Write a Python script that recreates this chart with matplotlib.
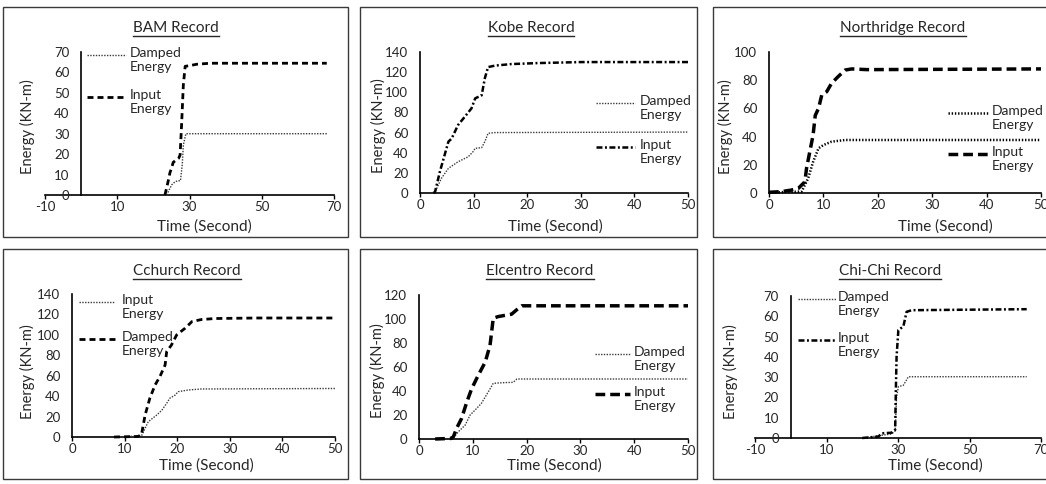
import matplotlib.pyplot as plt
from matplotlib.patches import Rectangle
from matplotlib.lines import Line2D

W, H = 1046, 484
plt.rcParams['font.family'] = ['Lato', 'DejaVu Sans']
plt.rcParams['lines.scale_dashes'] = False
plt.rcParams['axes.unicode_minus'] = False

# ---- energy histories (time in s, energy in KN-m) ----
bam_t_input = [23.2, 24.0, 24.6, 25.0, 25.5, 26.2, 27.0, 27.4, 27.8, 28.3, 28.8, 30.0, 32.0, 35.7, 68.0]
bam_input = [0, 6, 11, 13, 16, 17, 18, 19.6, 34, 54, 63, 63.3, 64, 64.5, 64.5]
bam_t_damped = [23.7, 24.5, 25.1, 26.0, 26.9, 27.5, 28.0, 28.3, 29.0, 68.0]
bam_damped = [0, 3, 5, 6.5, 7, 7, 15, 24.5, 30, 30]

kobe_t_input = [2.5, 2.8, 3.7, 4.5, 5.3, 5.9, 7.1, 8.4, 9.6, 10.3, 11.5, 12.1, 12.7, 14.0, 17.0, 22.0, 30.0, 50.0]
kobe_input = [0, 1, 21, 36, 51, 54, 67.5, 76, 84, 94, 97, 114, 125, 126.5, 128, 129, 130, 130]
kobe_t_damped = [2.5, 2.8, 4.0, 5.3, 7.1, 9.0, 9.9, 10.3, 11.5, 12.1, 12.7, 14.0, 50.0]
kobe_damped = [0, 1, 14.6, 24.5, 31, 36, 41, 44.4, 45, 51, 59.3, 60, 60.5]

nr_t_input = [0, 2.3, 4.0, 5.4, 6.6, 6.9, 7.5, 8.1, 8.5, 9.1, 9.7, 10.6, 11.5, 12.7, 14.0, 15.2, 18.0, 50.0]
nr_input = [0.5, 1, 2, 3.3, 8, 17.5, 29.3, 41, 55, 60, 69.5, 71.8, 77.8, 82.5, 87.2, 88, 87.5, 88]
nr_t_damped = [0, 6.0, 7.2, 8.1, 9.1, 10.0, 11.5, 14.0, 50.0]
nr_damped = [0.3, 1, 10.4, 22, 31.7, 34, 36.4, 37.6, 37.6]

cch_t_dotted = [8.0, 13.2, 14.5, 16.1, 17.1, 18.0, 18.6, 19.6, 20.2, 22.1, 24.5, 50.0]
cch_dotted = [0, 1, 15, 21.5, 26.4, 33, 38, 41, 44.4, 46, 47, 47.5]
cch_t_dashed = [8.0, 12.5, 13.2, 13.9, 14.8, 15.8, 16.7, 17.7, 18.0, 18.9, 19.9, 21.5, 22.8, 24.6, 27.2, 35.0, 50.0]
cch_dashed = [0, 0.5, 2, 21.5, 38, 51, 59, 70.5, 83.6, 90, 100, 106.5, 113, 115, 116, 116.5, 116.5]

el_t_input = [3.0, 6.0, 6.4, 7.0, 7.9, 8.9, 9.8, 11.0, 12.3, 13.2, 13.8, 14.7, 17.2, 18.5, 19.1, 20.4, 50.0]
el_input = [0, 0.5, 2, 9, 17, 31, 42, 53, 64, 78, 100.6, 102, 104, 109, 111, 111, 111]
el_t_damped = [6.4, 7.3, 8.6, 9.5, 10.4, 11.6, 12.9, 13.8, 15.9, 17.5, 18.2, 20.0, 50.0]
el_damped = [1, 6, 11.7, 20, 24, 29.7, 39.4, 46.4, 47, 47.2, 50, 50, 50]

chichi_t_input = [20.0, 24.5, 25.5, 28.2, 29.2, 29.4, 29.6, 30.1, 31.5, 32.4, 33.8, 66.0]
chichi_input = [0, 0.7, 2.3, 2.6, 4, 23.7, 40, 53.2, 55, 62.2, 63, 63.5]
chichi_t_damped = [20.0, 28.2, 29.2, 29.6, 30.1, 31.5, 32.9, 66.0]
chichi_damped = [0, 2, 3.5, 20, 25.3, 26, 30.2, 30.2]

titles = ['BAM Record', 'Kobe Record', 'Northridge Record',
          'Cchurch Record', 'Elcentro Record', 'Chi-Chi Record']

# line styles
DOT = dict(color='#3a3a3a', lw=1.0, linestyle=(0, (1, 1)))
DOT_BOLD = dict(color='black', lw=1.8, linestyle=(0, (1, 1.3)))
DASH = dict(color='black', lw=2.0, linestyle=(0, (4.3, 2.9)))
DASH_LONG = dict(color='black', lw=2.5, linestyle=(0, (7, 3.6)))
DASHDOT = dict(color='black', lw=1.8, linestyle=(0, (4.3, 1.8, 1.4, 1.8)))

TXT = '#262626'

# layout in pixels: axis box (x at xmin, x at xmax, y at ymin, y at ymax)
panels = [
    dict(axpx=(45, 334, 195, 52), xlim=(-10, 70), xstep=20, ylim=(0, 70), ystep=10,
         series=[(bam_t_damped, bam_damped, DOT, 'Damped\nEnergy'),
                 (bam_t_input, bam_input, DASH, 'Input\nEnergy')],
         leg=(87, 126, 130, 55, 97), title=(176, 28), xlab=(204, 227), ylab=(27, 127),
         box=(3, 7, 348, 237)),
    dict(axpx=(420, 688, 193, 52), xlim=(0, 50), xstep=10, ylim=(0, 140), ystep=20,
         series=[(kobe_t_damped, kobe_damped, DOT, 'Damped\nEnergy'),
                 (kobe_t_input, kobe_input, DASHDOT, 'Input\nEnergy')],
         leg=(596, 635, 640, 103, 147), title=(531, 28), xlab=(555, 227), ylab=(378, 126),
         box=(360, 7, 697, 237)),
    dict(axpx=(769, 1041, 193, 52), xlim=(0, 50), xstep=10, ylim=(0, 100), ystep=20,
         series=[(nr_t_damped, nr_damped, DOT_BOLD, 'Damped\nEnergy'),
                 (nr_t_input, nr_input, DASH_LONG, 'Input\nEnergy')],
         leg=(948, 988, 992, 113, 154), title=(903, 28), xlab=(945, 227), ylab=(725, 127),
         box=(713, 7, 1060, 237)),
    dict(axpx=(72, 335, 437, 294), xlim=(0, 50), xstep=10, ylim=(0, 140), ystep=20,
         series=[(cch_t_dotted, cch_dotted, DOT, 'Input\nEnergy'),
                 (cch_t_dashed, cch_dashed, DASH, 'Damped\nEnergy')],
         leg=(79, 115, 122, 302, 339), title=(187, 271), xlab=(206, 466), ylab=(27, 372),
         box=(3, 249, 348, 479)),
    dict(axpx=(419, 688, 439, 295), xlim=(0, 50), xstep=10, ylim=(0, 120), ystep=20,
         series=[(el_t_damped, el_damped, DOT, 'Damped\nEnergy'),
                 (el_t_input, el_input, DASH_LONG, 'Input\nEnergy')],
         leg=(595, 630, 634, 354, 394), title=(540, 271), xlab=(554, 466), ylab=(377, 371),
         box=(360, 249, 697, 479)),
    dict(axpx=(755, 1041, 438, 296), xlim=(-10, 70), xstep=20, ylim=(0, 70), ystep=10,
         series=[(chichi_t_damped, chichi_damped, DOT, 'Damped\nEnergy'),
                 (chichi_t_input, chichi_input, DASHDOT, 'Input\nEnergy')],
         leg=(798, 836, 838, 299, 340), title=(890, 271), xlab=(935, 466), ylab=(730, 372),
         box=(713, 249, 1060, 479)),
]


def fx(x):
    return x / W


def fy(y):
    return 1 - y / H


fig = plt.figure(figsize=(W / 100, H / 100), dpi=100)

title_texts = []
for title, p in zip(titles, panels):
    x0, x1, yb, yt = p['axpx']
    ax = fig.add_axes([fx(x0), fy(yb), (x1 - x0) / W, (yb - yt) / H])
    ax.patch.set_alpha(0)

    for t, e, style, label in p['series']:
        ax.plot(t, e, label=label, clip_on=False, **style)

    ax.set_xlim(*p['xlim'])
    ax.set_ylim(*p['ylim'])
    ax.set_xticks(range(p['xlim'][0], p['xlim'][1] + 1, p['xstep']))
    ax.set_yticks(range(p['ylim'][0], p['ylim'][1] + 1, p['ystep']))

    for s in ['top', 'right']:
        ax.spines[s].set_visible(False)
    ax.spines['left'].set_position(('data', 0))
    for s in ['left', 'bottom']:
        ax.spines[s].set_linewidth(1.2)
        ax.spines[s].set_zorder(1)
    ax.tick_params(axis='x', direction='out', length=3, width=1, pad=1.5,
                   labelsize=9.5, labelcolor=TXT)
    ax.tick_params(axis='y', length=0, pad=8.5, labelsize=9.5, labelcolor=TXT)

    # hand-drawn legend: key beside the first line of a two-line label
    sx0, sx1, tx, ly1, ly2 = p['leg']
    for (t, e, style, label), ly in zip(p['series'], [ly1, ly2]):
        fig.add_artist(Line2D([fx(sx0), fx(sx1)], [fy(ly), fy(ly)], **style))
        fig.text(fx(tx), fy(ly - 8), label, ha='left', va='top', fontsize=10,
                 color=TXT, linespacing=1.2)

    tt = fig.text(fx(p['title'][0]), fy(p['title'][1]), title, ha='center', va='center',
                  fontsize=11, color=TXT)
    title_texts.append(tt)
    fig.text(fx(p['xlab'][0]), fy(p['xlab'][1]), 'Time (Second)', ha='center',
             va='center', fontsize=11, color=TXT)
    fig.text(fx(p['ylab'][0]), fy(p['ylab'][1]), 'Energy (KN-m)', ha='center',
             va='center', rotation=90, fontsize=10.5, color=TXT)

    bx0, by0, bx1, by1 = p['box']
    fig.add_artist(Rectangle((fx(bx0), fy(by1)), (bx1 - bx0) / W, (by1 - by0) / H,
                             transform=fig.transFigure, fill=False,
                             edgecolor='#3a3a3a', lw=1.0))

# underline the titles
fig.canvas.draw()
renderer = fig.canvas.get_renderer()
for tt in title_texts:
    bb = tt.get_window_extent(renderer)
    yline = bb.y0 - 1
    fig.add_artist(Line2D([bb.x0 / W, bb.x1 / W], [yline / H, yline / H],
                          color=TXT, lw=1.0))

fig.savefig('out.png', dpi=100)
